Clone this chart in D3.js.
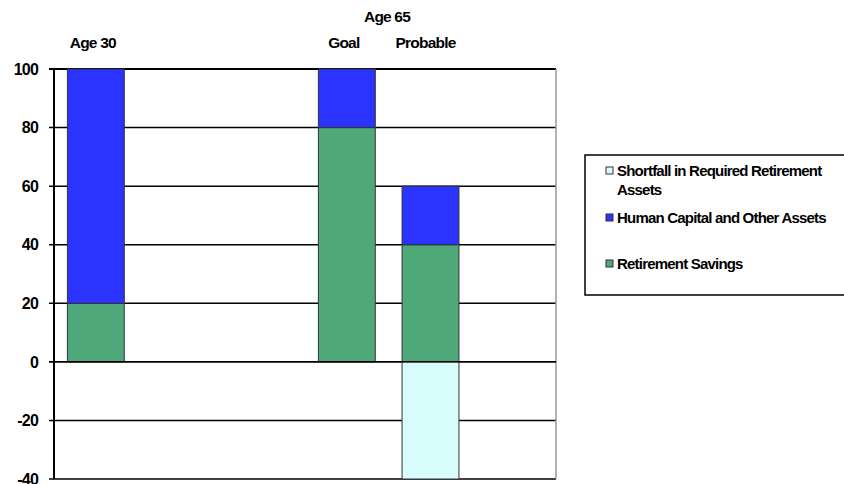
<!DOCTYPE html>
<html>
<head>
<meta charset="utf-8">
<script src="https://cdn.jsdelivr.net/npm/d3@7"></script>
<style>
  body { margin: 0; background: #fff; }
  text { font-family: "Liberation Sans", Arial, sans-serif; font-weight: bold; letter-spacing: -0.8px; }
</style>
</head>
<body>
<div id="chart"></div>
<script>
// categories (empty slots keep the spacing of the original sheet)
const categories = ["Age 30", "s1", "s2", "Goal", "Probable", "s3"];
const retirementSavings = [20, 0, 0, 80, 40, 0];
const humanCapital = [80, 0, 0, 20, 20, 0];
const shortfall = [0, 0, 0, 0, -40, 0];
const yTicks = [100, 80, 60, 40, 20, 0, -20, -40];

const seriesNames = ["Retirement Savings", "Human Capital and Other Assets", "Shortfall in Required Retirement Assets"];
const colors = ["#4fa87a", "#2b33ff", "#d8fdfd"];

const W = 844, H = 484;
const margin = { LEFT: 54, RIGHT: 288, TOP: 69, BOTTOM: 5 };

let rows = categories.map((c, i) => ({
  cat: c,
  "Retirement Savings": retirementSavings[i],
  "Human Capital and Other Assets": humanCapital[i],
  "Shortfall in Required Retirement Assets": shortfall[i]
}));

const svg = d3.select("#chart").append("svg")
  .attr("width", W).attr("height", H);

const x = d3.scaleBand()
  .domain(categories)
  .range([margin.LEFT, 556])
  .paddingInner(0.32)
  .paddingOuter(0.16);

const y = d3.scaleLinear()
  .domain([-40, 100])
  .range([479, 69]);

// gridlines
svg.append("g").selectAll("line")
  .data(yTicks)
  .join("line")
    .attr("x1", margin.LEFT - 5)
    .attr("x2", 556)
    .attr("y1", d => y(d))
    .attr("y2", d => y(d))
    .attr("stroke", "#000")
    .attr("stroke-width", d => d === 100 ? 2 : 1.5);

// right border
svg.append("line")
  .attr("x1", 556).attr("x2", 556)
  .attr("y1", y(100)).attr("y2", y(-40))
  .attr("stroke", "#999").attr("stroke-width", 1.5);

// stacked bars
const stacked = d3.stack()
  .keys(seriesNames)
  .offset(d3.stackOffsetDiverging)(rows);

svg.append("g").selectAll("g")
  .data(stacked)
  .join("g")
    .attr("fill", (d, i) => colors[i])
  .selectAll("rect")
  .data(d => d.filter(v => v[1] - v[0] !== 0))
  .join("rect")
    .attr("x", d => x(d.data.cat))
    .attr("width", x.bandwidth())
    .attr("y", d => y(d[1]))
    .attr("height", d => y(d[0]) - y(d[1]))
    .attr("stroke", "#333")
    .attr("stroke-width", 1);

// zero line on top of bars
svg.append("line")
  .attr("x1", margin.LEFT - 5).attr("x2", 556)
  .attr("y1", y(0)).attr("y2", y(0))
  .attr("stroke", "#000").attr("stroke-width", 1.5);

// y axis line
svg.append("line")
  .attr("x1", margin.LEFT).attr("x2", margin.LEFT)
  .attr("y1", y(100)).attr("y2", y(-40))
  .attr("stroke", "#000").attr("stroke-width", 2);

// y tick labels
svg.append("g").selectAll("text")
  .data(yTicks)
  .join("text")
    .attr("x", 38)
    .attr("y", d => y(d))
    .attr("dy", "0.36em")
    .attr("text-anchor", "end")
    .attr("font-size", 16)
    .text(d => d);

// category labels above the chart
const topLabels = [
  { text: "Age 30", cx: x("Age 30") + x.bandwidth() / 2 - 3, yy: 48 },
  { text: "Goal", cx: x("Goal") + x.bandwidth() / 2 - 3, yy: 48 },
  { text: "Probable", cx: x("Probable") + x.bandwidth() / 2 - 5, yy: 48 },
  { text: "Age 65", cx: 387, yy: 22 }
];
svg.append("g").selectAll("text")
  .data(topLabels)
  .join("text")
    .attr("x", d => d.cx)
    .attr("y", d => d.yy)
    .attr("text-anchor", "middle")
    .attr("font-size", 15.5)
    .text(d => d.text);

// legend
const legend = svg.append("g");
legend.append("rect")
  .attr("x", 585).attr("y", 155)
  .attr("width", 262).attr("height", 140)
  .attr("fill", "#fff").attr("stroke", "#000").attr("stroke-width", 1.5);

const legendItems = [
  { i: 2, lines: ["Shortfall in Required Retirement", "Assets"], yy: 171 },
  { i: 1, lines: ["Human Capital and Other Assets"], yy: 218 },
  { i: 0, lines: ["Retirement Savings"], yy: 264 }
];
legendItems.forEach(d => {
  legend.append("rect")
    .attr("x", 606).attr("y", d.yy - 4)
    .attr("width", 7).attr("height", 7)
    .attr("fill", colors[d.i]).attr("stroke", "#333").attr("stroke-width", 1);
  d.lines.forEach((l, k) => {
    legend.append("text")
      .attr("x", 617)
      .attr("y", d.yy + k * 19)
      .attr("dy", "0.36em")
      .attr("font-size", 15)
      .text(l);
  });
});
</script>
</body>
</html>
